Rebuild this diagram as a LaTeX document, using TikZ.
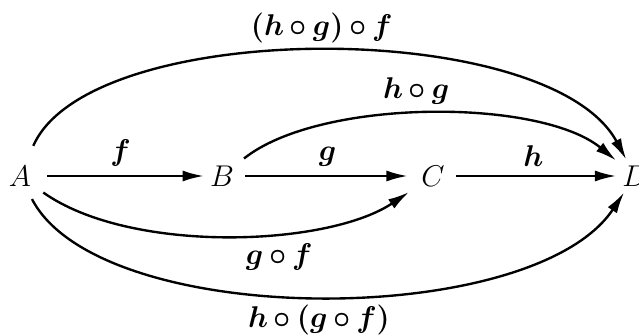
\documentclass[tikz,border=0pt]{standalone}
\usetikzlibrary{arrows.meta}

\begin{document}
\begin{tikzpicture}[x=0.4pt,y=0.4pt,line width=0.95pt,
    >={Latex[length=8.5pt,width=4.4pt]},
    obj/.style={inner sep=2pt,font=\fontsize{12.5}{14}\selectfont},
    lbl/.style={font=\fontsize{12.5}{14}\selectfont\boldmath}]
    \useasboundingbox (0,0) rectangle (639,334);
    % los cuatro objetos en una fila
    \node[obj] (A) at (20,158) {$A$};
    \node[obj] (B) at (222,158) {$B$};
    \node[obj] (C) at (433,158) {$C$};
    \node[obj] (D) at (635,158) {$D$};
    % flechas rectas
    \draw[->,shorten <=4pt] (A) -- (B) node[midway,above,lbl] {$f$};
    \draw[->,shorten <=2pt,shorten >=3pt] (B) -- (C) node[midway,above,lbl] {$g$};
    \draw[->,shorten <=2pt] (C) -- (D) node[midway,above,lbl] {$h$};
    % composiciones por arriba
    \draw[->,shorten <=6pt] (A) .. controls (90,317) and (550,317) .. (D)
      node[pos=0.5,above=0pt,lbl] {$(h\,{\circ}\,g)\,{\circ}\,f$};
    \draw[->,shorten <=2pt] (B) .. controls (320,236) and (540,236) .. (D)
      node[pos=0.47,above=0pt,lbl] {$h\,{\circ}\,g$};
    % composiciones por abajo
    \draw[->,shorten <=3pt,shorten >=3pt] (A) .. controls (130,80) and (327,87) .. (C)
      node[pos=0.62,below=1pt,lbl] {$g\,{\circ}\,f$};
    \draw[->,shorten <=3pt] (A) .. controls (100,4) and (533,4) .. (D)
      node[pos=0.5,below=0pt,lbl] {$h\,{\circ}\,(g\,{\circ}\,f)$};
\end{tikzpicture}
\end{document}
